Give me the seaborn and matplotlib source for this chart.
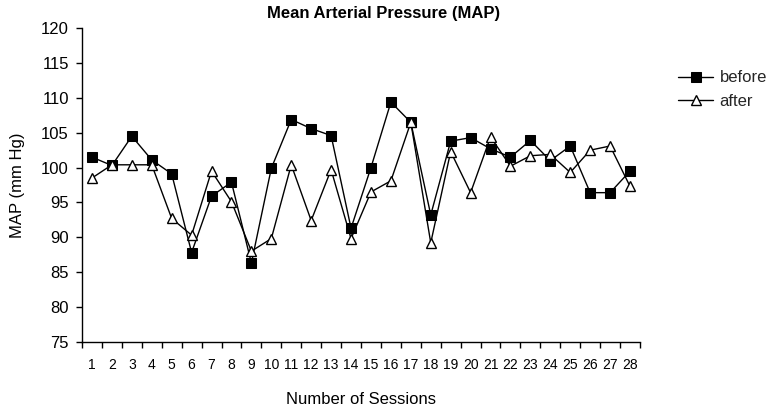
import numpy as np
import pandas as pd
import matplotlib
matplotlib.use("Agg")
import matplotlib.pyplot as plt
import seaborn as sns

sessions = list(range(1, 29))
before = [101.5, 100.3, 104.5, 101.1, 99.1, 87.8, 95.9, 97.9, 86.3, 99.9,
          106.9, 105.6, 104.6, 91.3, 100.0, 109.4, 106.5, 93.2, 103.8, 104.3,
          102.7, 101.5, 103.9, 101.0, 103.1, 96.4, 96.4, 99.5]
after = [98.5, 100.4, 100.4, 100.4, 92.7, 90.3, 99.5, 95.1, 88.0, 89.8,
         100.4, 92.4, 99.7, 89.8, 96.5, 98.1, 106.5, 89.2, 102.3, 96.4,
         104.4, 100.2, 101.7, 101.9, 99.3, 102.5, 103.1, 97.3]
yticks = [75, 80, 85, 90, 95, 100, 105, 110, 115, 120]

sns.set_theme(style="white")
plt.rcParams['font.family'] = ['Liberation Sans', 'DejaVu Sans']

df = pd.DataFrame({
    "session": sessions * 2,
    "MAP": before + after,
    "when": ["before"] * len(sessions) + ["after"] * len(sessions),
})

W, H = 772, 409
fig = plt.figure(figsize=(W / 100, H / 100), dpi=100)
ax_l, ax_r, ax_t, ax_b = 82, 640, 28.3, 341.7
ax = fig.add_axes([ax_l / W, 1 - ax_b / H, (ax_r - ax_l) / W, (ax_b - ax_t) / H])

sns.lineplot(data=df[df.when == "before"], x="session", y="MAP", ax=ax,
             color="black", lw=1.0, marker="s", markersize=7.5,
             markerfacecolor="black", markeredgecolor="black", label="before")
sns.lineplot(data=df[df.when == "after"], x="session", y="MAP", ax=ax,
             color="black", lw=1.0, marker="^", markersize=6.5,
             markerfacecolor="white", markeredgecolor="black", markeredgewidth=1.0,
             label="after")

ax.set_xlim(0.5, 28.5)
ax.set_ylim(75, 120)
ax.set_yticks(yticks)
ax.set_xticks(sessions)
ax.set_xticklabels([str(s) for s in sessions])
ax.set_xticks([s + 0.5 for s in range(0, 29)], minor=True)
ax.tick_params(axis="x", which="major", length=0, pad=12, labelsize=10, colors="black")
ax.tick_params(axis="x", which="minor", length=4, width=1, direction="out", bottom=True, color="black")
ax.tick_params(axis="y", which="major", length=4.5, width=1, direction="out", left=True,
               labelsize=12, colors="black", pad=5)

for s in ["top", "right"]:
    ax.spines[s].set_visible(False)
for s in ["left", "bottom"]:
    ax.spines[s].set_color("black")
    ax.spines[s].set_linewidth(1.0)

ax.set_xlabel("Number of Sessions", fontsize=12, color="black")
ax.xaxis.set_label_coords(0.5, (ax_b - 392) / (ax_b - ax_t))
ax.set_ylabel("MAP (mm Hg)", fontsize=12, color="black")
ax.yaxis.set_label_coords((25 - ax_l) / (ax_r - ax_l), 0.5)

fig.text(384 / W, 1 - 13.5 / H, "Mean Arterial Pressure (MAP)", fontsize=12,
         fontweight="bold", color="black", ha="center", va="center")

ax.legend(loc="center left", bbox_to_anchor=(678 / W, 1 - 89.5 / H), bbox_transform=fig.transFigure,
          frameon=False, fontsize=12, handlelength=2.1, handletextpad=0.4,
          labelspacing=0.5, borderaxespad=0, borderpad=0)

fig.savefig("out.png", dpi=100)
